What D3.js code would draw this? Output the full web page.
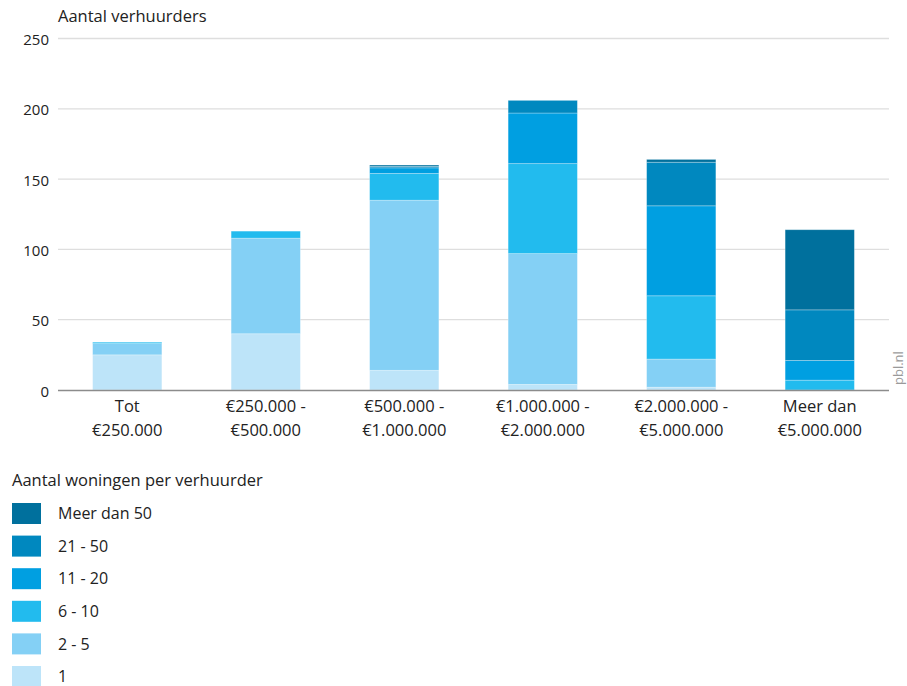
<!DOCTYPE html>
<html>
<head>
<meta charset="utf-8">
<script src="https://cdn.jsdelivr.net/npm/d3@7"></script>
<style>
  html, body { margin: 0; padding: 0; background: #fff; }
  svg { display: block; font-family: "Open Sans", "Noto Sans", sans-serif; }
</style>
</head>
<body>
<svg id="chart" width="907" height="686"></svg>
<script>
// Categories: WOZ value of rented-out property per landlord
const categories = [
  ["Tot", "€250.000"],
  ["€250.000 -", "€500.000"],
  ["€500.000 -", "€1.000.000"],
  ["€1.000.000 -", "€2.000.000"],
  ["€2.000.000 -", "€5.000.000"],
  ["Meer dan", "€5.000.000"]
];

// Series: number of dwellings per landlord (stacked bottom to top)
const seriesNames = ["1", "2 - 5", "6 - 10", "11 - 20", "21 - 50", "Meer dan 50"];
const seriesColors = ["#bde4f9", "#84d0f5", "#22bbee", "#009fe1", "#0088bf", "#00709d"];

const vals1 = [25, 40, 14, 4, 2, 0];
const vals2_5 = [8, 68, 121, 93, 20, 0];
const vals6_10 = [1, 5, 19, 64, 45, 7];
const vals11_20 = [0, 0, 4, 36, 64, 14];
const vals21_50 = [0, 0, 1, 9, 31, 36];
const valsOver50 = [0, 0, 1, 0, 2, 57];

const yTicks = [0, 50, 100, 150, 200, 250];
const yTitle = "Aantal verhuurders";
const legendTitle = "Aantal woningen per verhuurder";
const credit = "pbl.nl";

const seriesValues = [vals1, vals2_5, vals6_10, vals11_20, vals21_50, valsOver50];
const rows = categories.map((c, i) => {
  const r = { key: i };
  seriesNames.forEach((s, j) => { r[s] = seriesValues[j][i]; });
  return r;
});

const svg = d3.select("#chart");
const margin = { left: 58, right: 18, top: 38.5 };
const W = 907;

const x = d3.scaleBand()
  .domain(rows.map(r => r.key))
  .range([margin.left, W - margin.right])
  .paddingInner(0.5)
  .paddingOuter(0.25);

const y = d3.scaleLinear()
  .domain([0, 250])
  .range([390, margin.top]);

// gridlines
svg.append("g").selectAll("line")
  .data(yTicks.filter(t => t > 0))
  .join("line")
  .attr("x1", margin.left).attr("x2", W - margin.right)
  .attr("y1", d => y(d)).attr("y2", d => y(d))
  .attr("stroke", "#dedede").attr("stroke-width", 1.3);

// y axis labels
const yAxis = svg.append("g")
  .attr("transform", `translate(${margin.left - 9},0)`)
  .call(d3.axisLeft(y).tickValues(yTicks).tickSize(0).tickPadding(0));
yAxis.select(".domain").remove();
yAxis.selectAll("text")
  .attr("font-size", 15).attr("fill", "#222")
  .attr("font-family", "\"Open Sans\", sans-serif")
  .attr("dy", "0.4em");

// y title
svg.append("text")
  .attr("x", margin.left).attr("y", 22)
  .attr("font-size", 16.5).attr("fill", "#222")
  .text(yTitle);

// stacked bars
const layers = d3.stack().keys(seriesNames)(rows);
svg.append("g").selectAll("g")
  .data(layers)
  .join("g")
  .attr("fill", (d, i) => seriesColors[i])
  .selectAll("rect")
  .data(d => d)
  .join("rect")
  .attr("x", d => x(d.data.key))
  .attr("width", x.bandwidth())
  .attr("y", d => y(d[1]))
  .attr("height", d => Math.max(0, y(d[0]) - y(d[1])))
  .attr("stroke", "rgba(255,255,255,0.35)")
  .attr("stroke-width", 0.8);

// x axis baseline
svg.append("line")
  .attr("x1", margin.left).attr("x2", W - margin.right)
  .attr("y1", y(0) + 0.5).attr("y2", y(0) + 0.5)
  .attr("stroke", "#8c8c8c").attr("stroke-width", 1.5);

// x labels (two lines)
const xl = svg.append("g").selectAll("text")
  .data(rows)
  .join("text")
  .attr("y", 412)
  .attr("text-anchor", "middle")
  .attr("font-size", 16.5).attr("fill", "#222");
xl.append("tspan").attr("x", d => x(d.key) + x.bandwidth() / 2).text(d => categories[d.key][0]);
xl.append("tspan").attr("x", d => x(d.key) + x.bandwidth() / 2).attr("dy", 24).text(d => categories[d.key][1]);

// credit text, rotated
svg.append("text")
  .attr("transform", `translate(903,385) rotate(-90)`)
  .attr("font-size", 13).attr("fill", "#9a9a9a")
  .text(credit);

// legend
svg.append("text")
  .attr("x", 12).attr("y", 486)
  .attr("font-size", 16.5).attr("fill", "#222")
  .text(legendTitle);

const legendOrder = seriesNames.map((s, i) => i).reverse();
const lg = svg.append("g").selectAll("g")
  .data(legendOrder)
  .join("g")
  .attr("transform", (d, i) => `translate(12,${503 + i * 32.6})`);
lg.append("rect")
  .attr("width", 29).attr("height", 21)
  .attr("fill", d => seriesColors[d]);
lg.append("text")
  .attr("x", 46).attr("y", 10.5).attr("dy", "0.36em")
  .attr("font-size", 16).attr("fill", "#222")
  .text(d => seriesNames[d]);
</script>
</body>
</html>
